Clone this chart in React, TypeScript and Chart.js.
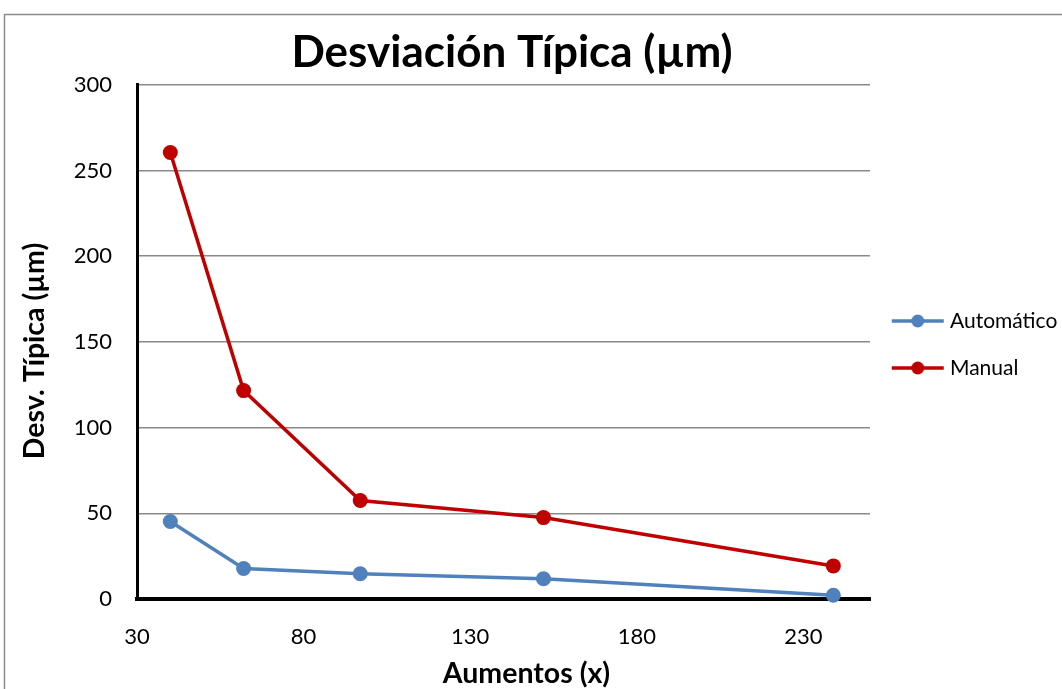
import React, { useEffect, useRef } from "react";
import { Chart, registerables } from "chart.js";

Chart.register(...registerables);

// ---- data ----
const aumentos = [40, 62, 97, 152, 239];
const automatico = [45.2, 17.8, 14.7, 11.8, 2.2];
const manual = [260.5, 121.6, 57.5, 47.5, 19.3];
const xTickValues = [30, 80, 130, 180, 230];
const seriesNames = ["Automático", "Manual"];
const seriesColors = ["#4F81BD", "#C00000"];
const chartTitle = "Desviación Típica (µm)";
const xTitle = "Aumentos (x)";
const yTitle = "Desv. Típica (µm)";

const FONT = "Lato, 'Open Sans', sans-serif";
const SHIFT = 38; // canvas is offset left so the title centres like the reference

function legendIcon(color: string) {
  const c = document.createElement("canvas");
  c.width = 54;
  c.height = 16;
  const ctx = c.getContext("2d")!;
  ctx.strokeStyle = color;
  ctx.lineWidth = 3.5;
  ctx.beginPath();
  ctx.moveTo(1, 8);
  ctx.lineTo(53, 8);
  ctx.stroke();
  ctx.fillStyle = color;
  ctx.beginPath();
  ctx.arc(27, 8, 6.5, 0, Math.PI * 2);
  ctx.fill();
  return c;
}

const framePlugin = {
  id: "frame",
  beforeDraw(chart: any) {
    const ctx = chart.ctx;
    ctx.save();
    ctx.fillStyle = "#ffffff";
    ctx.fillRect(0, 0, chart.width, chart.height);
    ctx.strokeStyle = "#8c8c8c";
    ctx.lineWidth = 1.5;
    ctx.beginPath();
    ctx.moveTo(SHIFT + 4.5, chart.height);
    ctx.lineTo(SHIFT + 4.5, 14.5);
    ctx.lineTo(chart.width, 14.5);
    ctx.stroke();
    ctx.restore();
  },
};

// nudges the axis titles to where the reference has them
const titleOffsetPlugin = {
  id: "titleOffset",
  afterLayout(chart: any) {
    const offsets: Record<string, [number, number]> = { x: [23, 0], y: [0, 9] };
    Object.keys(offsets).forEach((id) => {
      const s = chart.scales[id];
      if (!s || s.__patched) return;
      const orig = s.drawTitle.bind(s);
      s.drawTitle = () => {
        chart.ctx.save();
        chart.ctx.translate(offsets[id][0], offsets[id][1]);
        orig();
        chart.ctx.restore();
      };
      s.__patched = true;
    });
  },
};

export default function App() {
  const ref = useRef<HTMLCanvasElement>(null);

  useEffect(() => {
    const icons = seriesColors.map((c) => legendIcon(c));
    const seriesData = [automatico, manual];
    const chart = new Chart(ref.current!, {
      type: "line",
      data: {
        datasets: seriesNames.map((name, i) => ({
          label: name,
          data: aumentos.map((x, j) => ({ x, y: seriesData[i][j] })),
          borderColor: seriesColors[i],
          backgroundColor: seriesColors[i],
          borderWidth: 3.5,
          pointRadius: 7.5,
          pointHoverRadius: 7.5,
          pointBorderWidth: 0,
          pointStyle: "circle",
          tension: 0,
          clip: false,
        })),
      },
      options: {
        animation: false,
        responsive: false,
        events: [],
        color: "#000",
        layout: { padding: { left: 0, right: 0, top: 0, bottom: 0 } },
        plugins: {
          title: {
            display: true,
            text: chartTitle,
            color: "#000",
            font: { family: FONT, size: 44, weight: "bold" },
            padding: { top: 26, bottom: 6 },
            fullSize: true,
          },
          legend: {
            position: "right",
            maxWidth: 192,
            fullSize: true,
            labels: {
              usePointStyle: true,
              pointStyleWidth: 43.5,
              padding: 26,
              color: "#000",
              font: { family: FONT, size: 21 },
              generateLabels: (ch: any) => {
                const items = (Chart as any).defaults.plugins.legend.labels.generateLabels(ch);
                items.forEach((it: any) => {
                  it.pointStyle = icons[it.datasetIndex];
                });
                return items;
              },
            },
          },
          tooltip: { enabled: false },
        },
        scales: {
          x: {
            type: "linear",
            min: 30,
            max: 250,
            afterBuildTicks: (scale: any) => {
              scale.ticks = xTickValues.map((v) => ({ value: v }));
            },
            afterFit: (scale: any) => {
              scale.height = 90;
            },
            grid: { display: false, drawTicks: false },
            border: { display: true, color: "#000", width: 4 },
            ticks: {
              color: "#000",
              font: { family: FONT, size: 22 },
              padding: 25,
              maxRotation: 0,
            },
            title: {
              display: true,
              text: xTitle,
              color: "#000",
              font: { family: FONT, size: 28.5, weight: "bold" },
              padding: { top: 0, bottom: -2 },
            },
          },
          y: {
            type: "linear",
            min: 0,
            max: 300,
            afterFit: (scale: any) => {
              scale.width = 137 + SHIFT;
            },
            grid: { color: "#8a8a8a", lineWidth: 1.5, drawTicks: false },
            border: { display: true, color: "#000", width: 3 },
            ticks: {
              stepSize: 50,
              color: "#000",
              font: { family: FONT, size: 22 },
              padding: 25,
            },
            title: {
              display: true,
              text: yTitle,
              color: "#000",
              font: { family: FONT, size: 28.5, weight: "bold" },
              padding: { top: 35 + SHIFT - 17.1, bottom: 0 },
            },
          },
        },
      },
      plugins: [framePlugin, titleOffsetPlugin],
    } as any);
    return () => chart.destroy();
  }, []);

  return (
    <div
      style={{
        position: "fixed",
        left: 0,
        top: 0,
        width: 1062,
        height: 689,
        overflow: "hidden",
        background: "#fff",
      }}
    >
      <canvas
        ref={ref}
        width={1062 + SHIFT}
        height={689}
        style={{ display: "block", width: 1062 + SHIFT, height: 689, marginLeft: -SHIFT }}
      />
    </div>
  );
}
